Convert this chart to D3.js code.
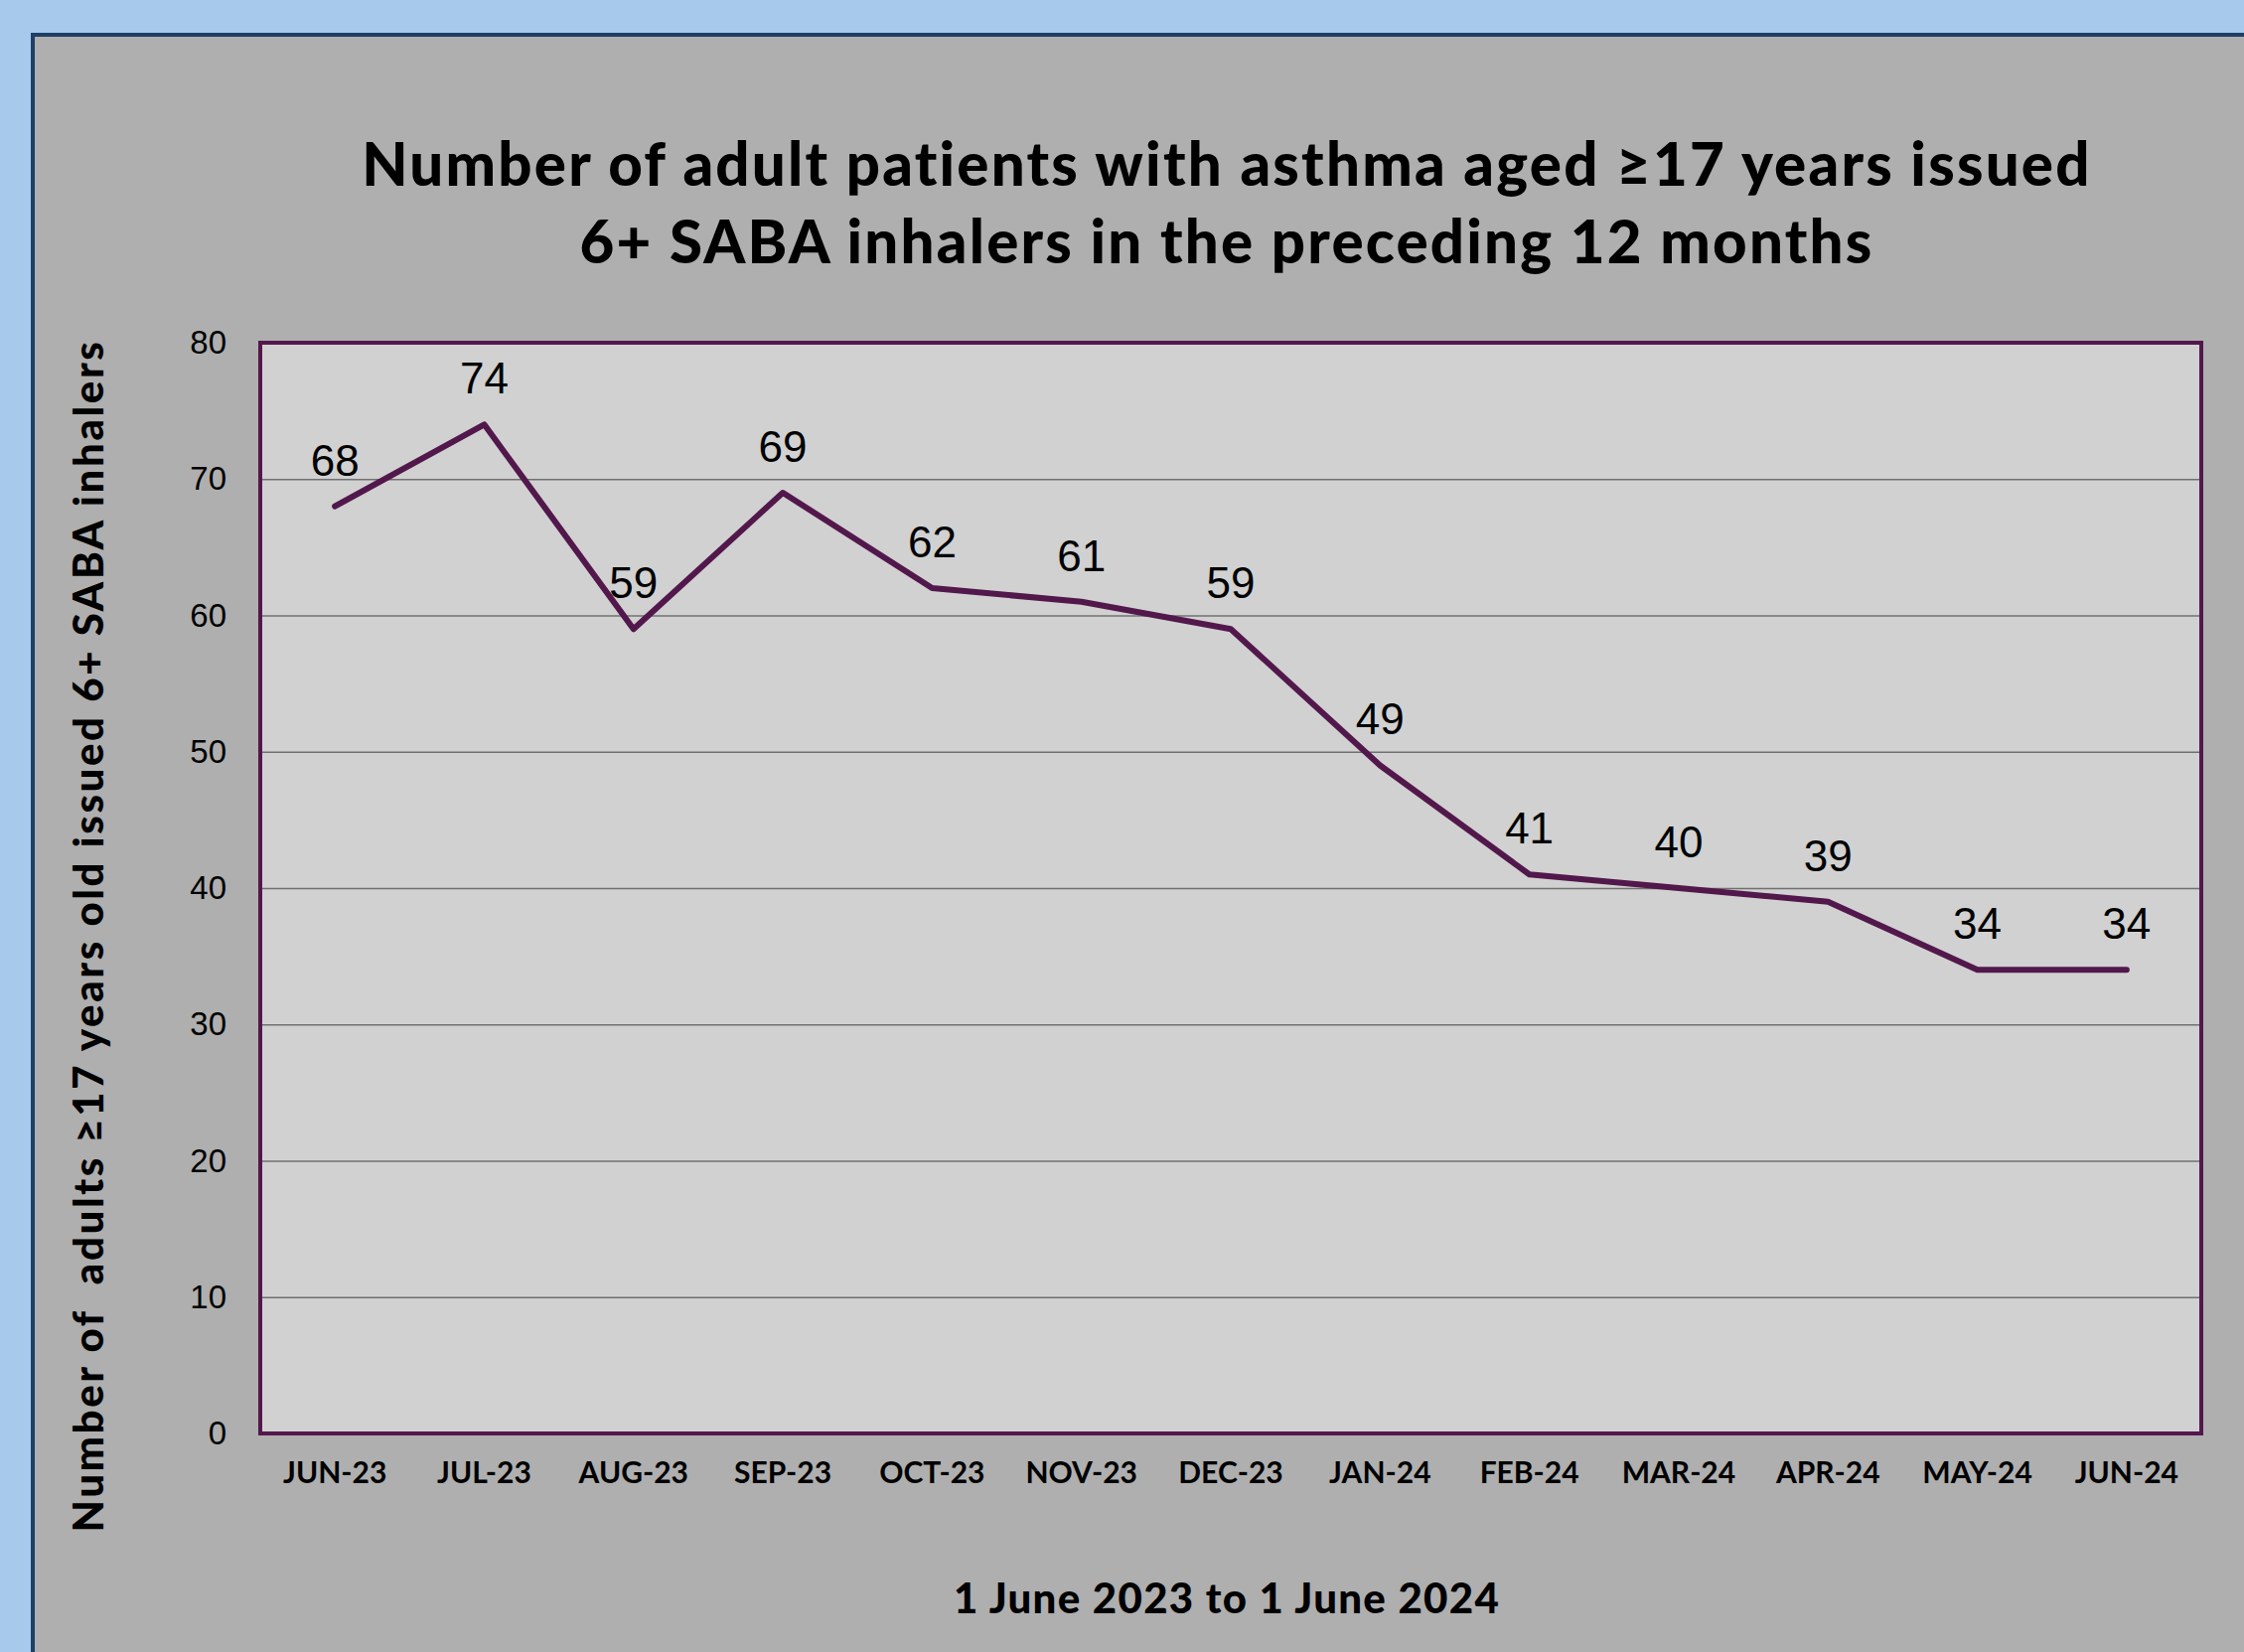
<!DOCTYPE html>
<html><head><meta charset="utf-8">
<script src="https://cdn.jsdelivr.net/npm/d3@7/dist/d3.min.js"></script>
<style>html,body{margin:0;padding:0;background:#a6c9ec;overflow:hidden}</style>
</head><body>
<script>
const months = ["JUN-23","JUL-23","AUG-23","SEP-23","OCT-23","NOV-23","DEC-23","JAN-24","FEB-24","MAR-24","APR-24","MAY-24","JUN-24"];
const values = [68,74,59,69,62,61,59,49,41,40,39,34,34];
const yTicks = [0,10,20,30,40,50,60,70,80];
const titleLines = ["Number of adult patients with asthma aged \u226517 years issued","6+ SABA inhalers in the preceding 12 months"];
const yTitle = "Number of  adults \u226517 years old issued 6+ SABA inhalers";
const xTitle = "1 June 2023 to 1 June 2024";

const W = 2259, H = 1663;
const svg = d3.select("body").append("svg").attr("width", W).attr("height", H);
svg.append("rect").attr("width", W).attr("height", H).attr("fill", "#a6c9ec");
svg.append("rect").attr("x", 33).attr("y", 35).attr("width", W).attr("height", H)
  .attr("fill", "#afafaf").attr("stroke", "#1e3f66").attr("stroke-width", 4);

const L = 262, R = 2216, T = 345, B = 1443;
const x = d3.scaleBand().domain(months).range([L, R]);
const y = d3.scaleLinear().domain([0, 80]).range([B, T]);
const cx = d => x(d) + x.bandwidth() / 2;

svg.append("rect").attr("x", L).attr("y", T).attr("width", R - L).attr("height", B - T).attr("fill", "#d1d1d1");

const grid = svg.append("g").attr("transform", `translate(${L},0)`)
  .call(d3.axisLeft(y).tickValues(yTicks).tickSize(-(R - L)).tickFormat(""));
grid.select(".domain").remove();
grid.selectAll("line").attr("stroke", "#707070").attr("stroke-width", 1.5);

const yAxis = svg.append("g").attr("transform", `translate(${L - 34},0)`)
  .call(d3.axisLeft(y).tickValues(yTicks).tickSize(0).tickPadding(0));
yAxis.select(".domain").remove();
yAxis.selectAll("text").attr("font-family", "'Liberation Sans', Arial, sans-serif")
  .attr("font-size", 33).attr("fill", "#000");

const xAxis = svg.append("g").attr("transform", `translate(0,${B + 50})`)
  .call(d3.axisBottom(x).tickSize(0).tickPadding(0));
xAxis.select(".domain").remove();
xAxis.selectAll("text").attr("font-family", "Lato, sans-serif").attr("font-weight", 700)
  .attr("font-size", 30).attr("fill", "#000").attr("dy", 0);

svg.append("rect").attr("x", L).attr("y", T).attr("width", R - L).attr("height", B - T)
  .attr("fill", "none").attr("stroke", "#52184c").attr("stroke-width", 4);

const line = d3.line().x((d, i) => cx(months[i])).y(d => y(d));
svg.append("path").datum(values).attr("d", line).attr("fill", "none")
  .attr("stroke", "#52184c").attr("stroke-width", 6).attr("stroke-linejoin", "round").attr("stroke-linecap", "round");

svg.append("g").selectAll("text").data(values).join("text")
  .attr("x", (d, i) => cx(months[i])).attr("y", d => y(d) - 31)
  .attr("text-anchor", "middle").attr("font-family", "'Liberation Sans', Arial, sans-serif")
  .attr("font-size", 44).attr("fill", "#000").text(d => d);

svg.append("g").selectAll("text").data(titleLines).join("text")
  .attr("x", 1235).attr("y", (d, i) => 187 + i * 78).attr("text-anchor", "middle")
  .attr("font-family", "Lato, sans-serif").attr("font-weight", 900).attr("font-size", 60)
  .attr("letter-spacing", 2.2).attr("fill", "#000").text(d => d);

svg.append("text").attr("transform", "translate(104,942) rotate(-90)").attr("text-anchor", "middle")
  .attr("font-family", "Lato, sans-serif").attr("font-weight", 900).attr("font-size", 42)
  .attr("letter-spacing", 2.6).attr("fill", "#000").style("white-space", "pre").text(yTitle);

svg.append("text").attr("x", 1235).attr("y", 1624).attr("text-anchor", "middle")
  .attr("font-family", "Lato, sans-serif").attr("font-weight", 900).attr("font-size", 42)
  .attr("letter-spacing", 1.3).attr("fill", "#000").text(xTitle);
</script>
</body></html>
